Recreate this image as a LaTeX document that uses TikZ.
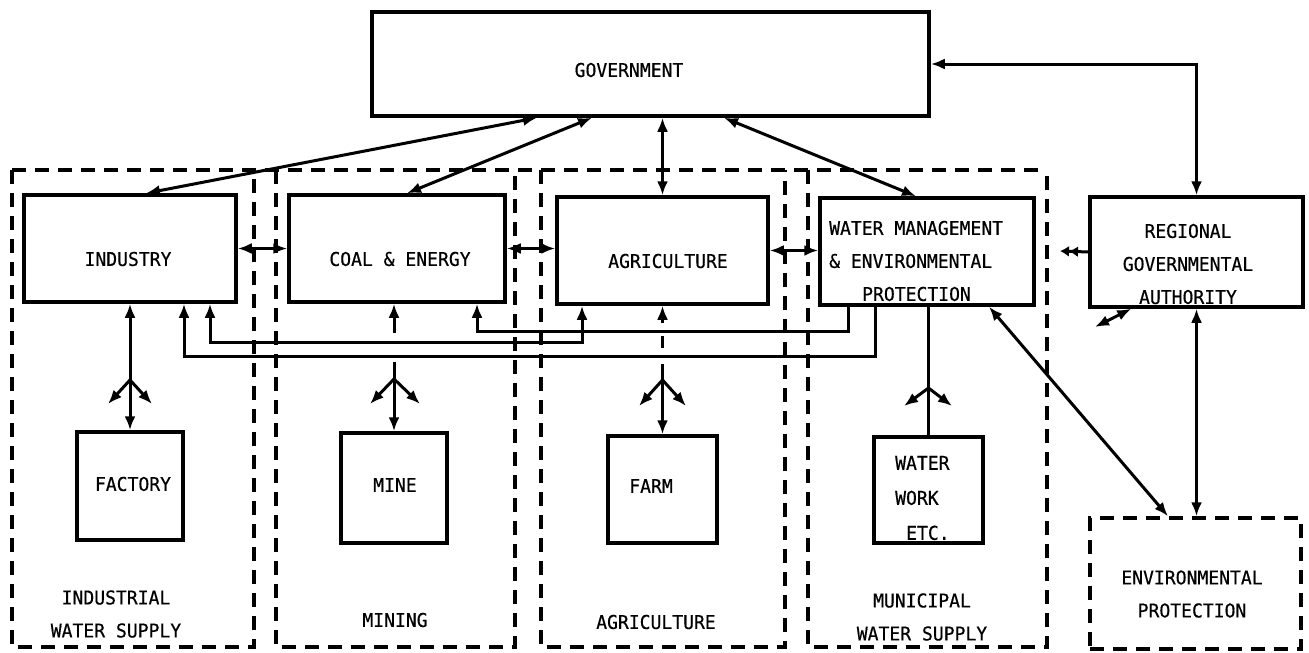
\documentclass[tikz,border=0pt]{standalone}
\usepackage{fontspec}
\newfontfamily\tw[FakeStretch=0.95,FakeBold=0.5]{DejaVu Sans Mono}
\usetikzlibrary{arrows.meta,calc}
\begin{document}
\begin{tikzpicture}[x=1pt,y=-1pt,
  box/.style={draw,line width=3.5pt,inner sep=0pt},
  dbox/.style={draw,line width=3.5pt,inner sep=0pt,dash pattern=on 14pt off 9pt},
  lbl/.style={font=\tw\fontsize{19}{33}\selectfont,inner sep=0pt,align=center},
  con/.style={line width=3pt},
  dsh/.style={line width=3.5pt,dash pattern=on 14pt off 9pt},
  >={Latex[length=14pt,width=11pt]}]
\useasboundingbox (0,0) rectangle (1309,653);

% sector containers
\draw[dsh] (12,170) -- (1047,170);
\draw[dsh] (12,170) -- (12,647) -- (254,647) -- (254,170);
\draw[dsh] (276,170) -- (276,647) -- (515,647) -- (515,170);
\draw[dsh] (541,170) -- (541,647) -- (785,647) -- (785,170);
\draw[dsh] (808,170) -- (808,647) -- (1047,647) -- (1047,170);

% boxes
\node[box,minimum width=557pt,minimum height=104pt] (gov) at (650.5,64) {};
\node[box,minimum width=212pt,minimum height=107pt] (industry) at (130,248.5) {};
\node[box,minimum width=216pt,minimum height=107pt] (coal) at (397,248.5) {};
\node[box,minimum width=211pt,minimum height=107pt] (agri) at (662.5,250.5) {};
\node[box,minimum width=214pt,minimum height=107pt] (wm) at (927,251.5) {};
\node[box,minimum width=213pt,minimum height=110pt] (regional) at (1196.5,252) {};
\node[box,minimum width=106pt,minimum height=108pt] (factory) at (130,486) {};
\node[box,minimum width=106pt,minimum height=110pt] (mine) at (394,488) {};
\node[box,minimum width=109pt,minimum height=107pt] (farm) at (662.5,489.5) {};
\node[box,minimum width=109pt,minimum height=106pt] (work) at (928.5,490) {};
\node[dbox,minimum width=211pt,minimum height=131pt] (env) at (1195.5,583.5) {};

% labels
\node[lbl] (govT) at (629,70) {GOVERNMENT};
\node[lbl] (industryT) at (128,259) {INDUSTRY};
\node[lbl] (coalT) at (400,259) {COAL \& ENERGY};
\node[lbl] (agriT) at (668,261) {AGRICULTURE};
\node[lbl,anchor=west,align=left] (wmT) at (829,261) {WATER MANAGEMENT\\\& ENVIRONMENTAL\\\hspace*{33pt}PROTECTION};
\node[lbl] (regionalT) at (1188,264) {REGIONAL\\GOVERNMENTAL\\AUTHORITY};
\node[lbl] (factoryT) at (133,484) {FACTORY};
\node[lbl] (mineT) at (395,485) {MINE};
\node[lbl] (farmT) at (651,486) {FARM};
\node[lbl,anchor=west,align=left,font=\tw\fontsize{19}{35}\selectfont] (workT) at (895,498) {WATER\\WORK\\\hspace*{11pt}ETC.};
\node[lbl] (envT) at (1192,594) {ENVIRONMENTAL\\PROTECTION};
\node[lbl] (indwsT) at (116,614) {INDUSTRIAL\\WATER SUPPLY};
\node[lbl] (miningT) at (395,620) {MINING};
\node[lbl] (agrisecT) at (656,622) {AGRICULTURE};
\node[lbl] (munT) at (922,617) {MUNICIPAL\\WATER SUPPLY};

% government links
\draw[con,<->] ($(gov.south)+(-113.5,0)$) -- ($(industry.north)+(16,0)$);
\draw[con,<->] ($(gov.south)+(-58.5,0)$) -- ($(coal.north)+(10,0)$);
\draw[con,<->] (gov.south -| agri.north) -- (agri.north);
\draw[con,<->] ($(gov.south)+(73.5,0)$) -- ($(wm.north)+(-11,0)$);
\draw[con,<->] (regional.north) |- (gov.east);

% horizontal links between sectors
\draw[con,<->] (industry.east) -- (industry.east -| coal.west);
\draw[con,<->] (coal.east) -- (coal.east -| agri.west);
\draw[con,<->] (agri.east) -- (agri.east -| wm.west);

% cross links below the boxes
\draw[con,<->] ($(agri.south)+(-80.5,0)$) -- ++(0,37) -| ($(industry.south)+(80,0)$);
\draw[con,->] ($(wm.south)+(-52,0)$) -- ++(0,50) -| ($(industry.south)+(54,0)$);
\draw[con,->] ($(wm.south)+(-79,0)$) -- ++(0,25) -| ($(coal.south)+(80,0)$);

% industry -> factory
\coordinate (f1) at (130,380);
\coordinate (f1l) at (108,404);
\coordinate (f1r) at (152,404);
\draw[con,<->] (industry.south) -- (factory.north);
\draw[con,->] (f1) -- (f1l);
\draw[con,->] (f1) -- (f1r);

% coal -> mine
\coordinate (cs) at (394,333);
\coordinate (cm) at (394,362);
\coordinate (f2) at (394,379);
\coordinate (f2l) at (370,404);
\coordinate (f2r) at (420,404);
\draw[con,->] (cs) -- (cs |- coal.south);
\draw[con,->] (cm) -- (mine.north);
\draw[con,->] (f2) -- (f2l);
\draw[con,->] (f2) -- (f2r);

% agriculture -> farm
\coordinate (as) at (662.5,323);
\coordinate (ad1) at (662.5,336);
\coordinate (ad2) at (662.5,348);
\coordinate (am) at (662.5,364);
\coordinate (f3) at (662.5,380);
\coordinate (f3l) at (639,406);
\coordinate (f3r) at (686,406);
\draw[con,->] (as) -- (as |- agri.south);
\draw[con] (ad1) -- (ad2);
\draw[con,->] (am) -- (farm.north);
\draw[con,->] (f3) -- (f3l);
\draw[con,->] (f3) -- (f3r);

% water management -> water work
\coordinate (f4) at (928.5,388);
\coordinate (f4l) at (904,406);
\coordinate (f4r) at (952,406);
\draw[con] (wm.south -| work.north) -- (work.north);
\draw[con,->] (f4) -- (f4l);
\draw[con,->] (f4) -- (f4r);

% regional authority links
\coordinate (rl) at (1060,251);
\coordinate (rd) at (1095,327);
\draw[con,-{Latex[length=9pt,width=11pt]Latex[length=9pt,width=11pt]}] (regional.west) -- (rl);
\draw[con,<->] ($(regional.south west)+(43,0)$) -- (rd);
\draw[con,<->] (regional.south) -- (regional.south |- env.north);
\draw[con,<->] ($(wm.south)+(62,0)$) -- ($(env.north)+(-27.5,0)$);
\end{tikzpicture}
\end{document}
